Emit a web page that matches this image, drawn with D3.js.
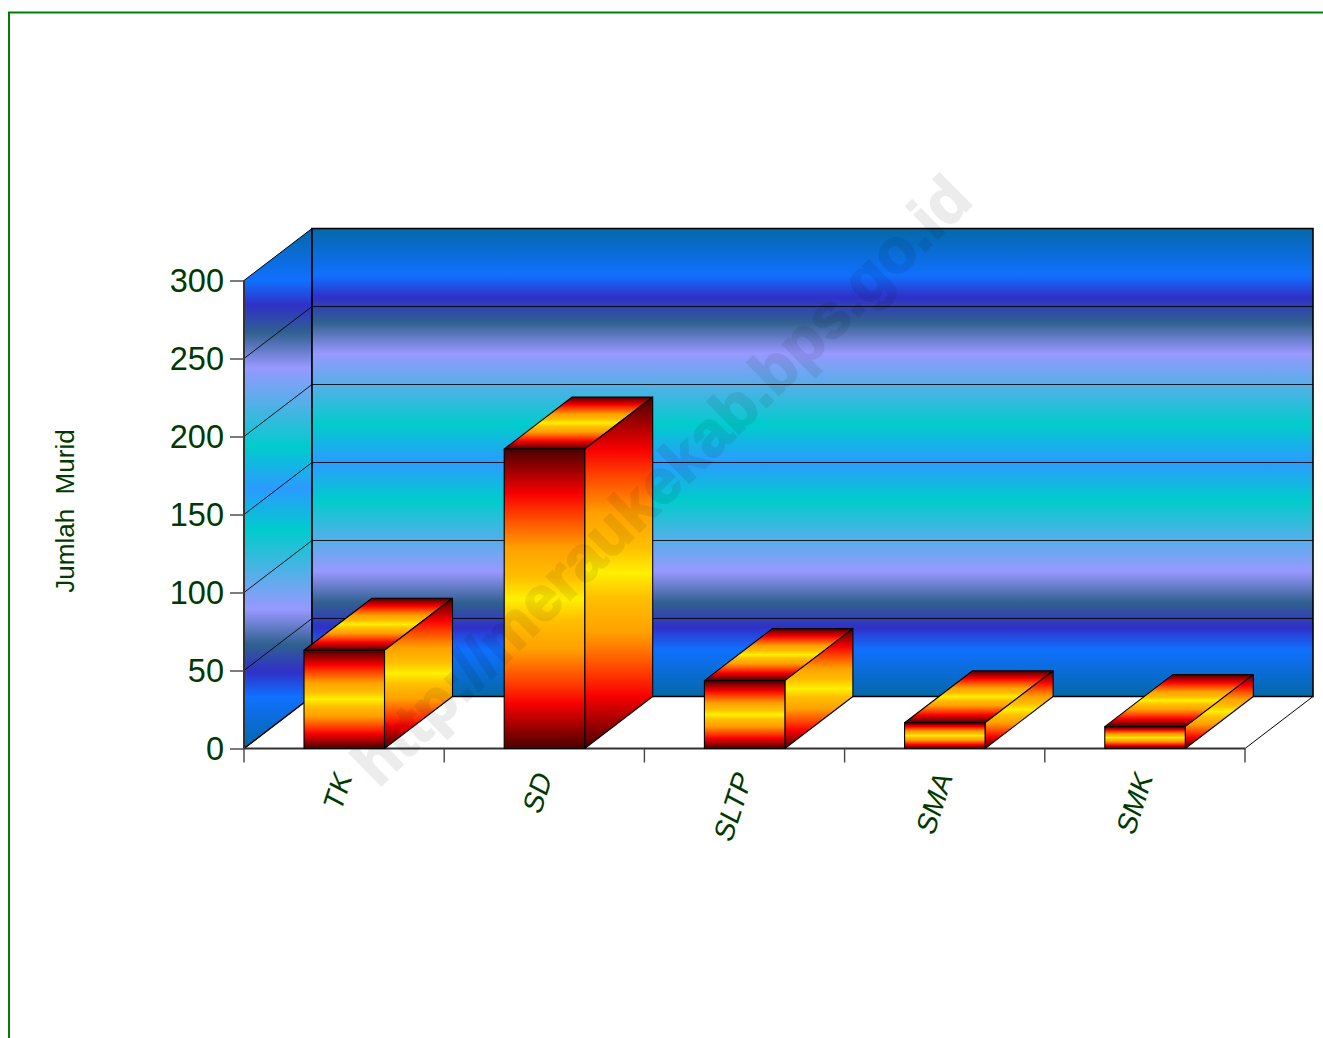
<!DOCTYPE html>
<html><head><meta charset="utf-8">
<style>html,body{margin:0;padding:0;background:#fff;overflow:hidden}svg{display:block}</style>
<script src="https://cdnjs.cloudflare.com/ajax/libs/d3/7.8.5/d3.min.js"></script>
</head><body><svg id="c" width="1323" height="1038"></svg>
<script>
const categories=["TK","SD","SLTP","SMA","SMK"];
const values=[63,192,43.5,16.5,14];
const yTicks=[0,50,100,150,200,250,300];
const axisTitle="Jumlah  Murid";
const watermark="http://meraukekab.bps.go.id";
const wallStops=[[0,"#0468a8"],[.1,"#1070ff"],[.147,"#3030c8"],[.2,"#306090"],[.267,"#9898ff"],[.42,"#00cccc"],[.5,"#2b9bff"],[.58,"#00cccc"],[.733,"#9898ff"],[.8,"#306090"],[.853,"#3030c8"],[.9,"#1070ff"],[1,"#0468a8"]];
const barStops=[[0,"#4a0000"],[.15,"#f80000"],[.22,"#ff4000"],[.33,"#ffa000"],[.43,"#ffc000"],[.5,"#fff000"],[.57,"#ffc000"],[.67,"#ffa000"],[.78,"#ff4000"],[.85,"#f80000"],[1,"#4a0000"]];
const green="#003a00";
const depthX=68,depthY=52;
const x=d3.scaleBand().domain(categories).range([244,1245]);
const y=d3.scaleLinear().domain([0,300]).range([748.5,280.5]);
const barW=80.5;
const barOff=60;
const svg=d3.select("#c");
const defs=svg.append("defs");
function grad(id,stops){const g=defs.append("linearGradient").attr("id",id).attr("x1",0).attr("y1",0).attr("x2",0).attr("y2",1);
 g.selectAll("stop").data(stops).join("stop").attr("offset",d=>d[0]).attr("stop-color",d=>d[1]);}
grad("wall",wallStops);grad("bar",barStops);
const path=p=>"M"+p.map(q=>q.join(",")).join("L")+"Z";
svg.append("path").attr("d","M9,1038V12.5H1323").attr("fill","none").attr("stroke","#008000").attr("stroke-width",2);
const x0=x.range()[0],x1=x.range()[1],yb=y(0),yt=y(300);
svg.append("path").attr("d",path([[x0,yb],[x0,yt],[x0+depthX,yt-depthY],[x0+depthX,yb-depthY]])).attr("fill","url(#wall)").attr("stroke","#000").attr("stroke-width",1);
svg.append("rect").attr("x",x0+depthX).attr("y",yt-depthY).attr("width",x1-x0).attr("height",yb-yt).attr("fill","url(#wall)");
const grid=yTicks.filter(t=>t>0&&t<300);
svg.append("g").selectAll("path").data(grid).join("path")
 .attr("d",t=>`M${x0},${y(t)}L${x0+depthX},${y(t)-depthY}H${x1+depthX}`).attr("fill","none").attr("stroke","#000").attr("stroke-opacity",.85).attr("stroke-width",1);
svg.append("path").attr("d",`M${x0+depthX},${yb-depthY}V${yt-depthY}H${x1+depthX}V${yb-depthY}H${x0+depthX}`).attr("fill","none").attr("stroke","#000").attr("stroke-width",1.6);
svg.append("path").attr("d",`M${x0},${yb}L${x0+depthX},${yb-depthY}`).attr("stroke","#000").attr("stroke-width",1.4);
svg.append("path").attr("d",`M${x1},${yb}L${x1+depthX},${yb-depthY}`).attr("stroke","#000").attr("stroke-width",1);
const ya=d3.axisLeft(y).tickValues(yTicks).tickSize(14).tickPadding(6);
const yg=svg.append("g").attr("transform",`translate(${x0},0)`).call(ya);
yg.select(".domain").attr("d",`M0,${yt}V${yb}`).attr("stroke","#333").attr("stroke-width",2);
yg.selectAll(".tick line").attr("stroke","#444").attr("stroke-width",1.4);
yg.selectAll("text").attr("font-family","'Liberation Sans'").attr("font-size",32.5).attr("fill",green).attr("dy","0.35em");
const xa=d3.axisBottom(x).tickSize(0).tickFormat("");
const xg=svg.append("g").attr("transform",`translate(0,${yb})`).call(xa);
xg.select(".domain").attr("d",`M${x0},0H${x1}`).attr("stroke","#333").attr("stroke-width",2);
xg.selectAll(".tick").remove();
svg.append("g").selectAll("line").data(d3.range(categories.length+1)).join("line")
 .attr("x1",i=>x0+i*x.step()).attr("x2",i=>x0+i*x.step()).attr("y1",yb).attr("y2",yb+14).attr("stroke","#444").attr("stroke-width",1.4);
const bars=svg.append("g").selectAll("g").data(categories.map((c,i)=>({c,v:values[i]}))).join("g");
bars.each(function(d){const g=d3.select(this),l=x(d.c)+barOff,r=l+barW,t=y(d.v),b=y(0);
 const st={stroke:"#000","stroke-width":1.1,"stroke-linejoin":"round"};
 const add=p=>{const e=g.append("path").attr("d",path(p)).attr("fill","url(#bar)");for(const k in st)e.attr(k,st[k]);};
 add([[l,t],[l+depthX,t-depthY],[r+depthX,t-depthY],[r,t]]);
 add([[r,b],[r,t],[r+depthX,t-depthY],[r+depthX,b-depthY]]);
 add([[l,b],[l,t],[r,t],[r,b]]);
});
svg.append("g").selectAll("text").data(categories).join("text")
 .attr("transform",c=>`translate(${x(c)+x.bandwidth()/2-1},773.5) rotate(-72) skewX(-10)`)
 .attr("text-anchor","end").attr("dy","0.35em").attr("font-family","'Liberation Sans'").attr("font-size",28.5).attr("fill",green).text(c=>c);
svg.append("text").attr("transform","translate(74,511) rotate(-90)").attr("text-anchor","middle").attr("font-family","'Liberation Sans'").attr("font-size",26).attr("fill",green).style("white-space","pre").text(axisTitle);
svg.append("text").attr("transform","translate(661,480) rotate(-44.5)").attr("text-anchor","middle").attr("dy","0.35em").attr("font-family","'Liberation Sans'").attr("font-weight","bold").attr("font-size",62.7).attr("fill","#000").attr("stroke","#000").attr("stroke-width",2).attr("opacity",.07).text(watermark);
</script></body></html>
